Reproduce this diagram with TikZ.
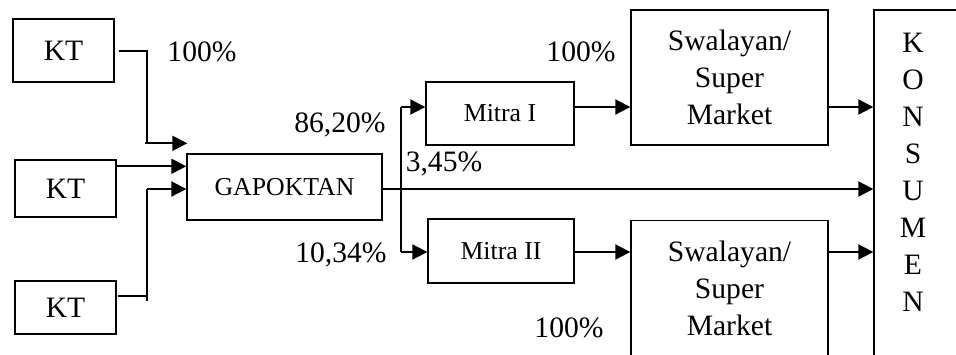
\documentclass[tikz,border=0pt]{standalone}
\usepackage{fontspec}
\setmainfont{Liberation Serif}
\usetikzlibrary{arrows.meta,calc}
\begin{document}
\begin{tikzpicture}[x=0.5pt,y=-0.5pt,
  big/.style={font=\fontsize{14.8}{18.5}\selectfont},
  small/.style={font=\fontsize{12.9}{15}\selectfont},
  box/.style={draw,line width=0.7pt,inner sep=0pt,align=center,big},
  smallbox/.style={box,small},
  link/.style={line width=1pt},
  arr/.style={link,-{Triangle[length=7.5pt,width=7.5pt]}},
  pct/.style={inner sep=0pt,big}]
\useasboundingbox (0,0) rectangle (956,354);
\clip (0,0) rectangle (956,354);

% farmer groups
\node[box,minimum width=50.5pt,minimum height=31.5pt] (kt1) at (63.5,50.5) {KT};
\node[box,minimum width=50.5pt,minimum height=28.5pt] (kt2) at (65.5,188.5) {KT};
\node[box,minimum width=50.5pt,minimum height=26.5pt] (kt3) at (65.5,307.5) {KT};

% collector and partners
\node[smallbox,minimum width=97.5pt,minimum height=33pt] (gap) at (284.5,187) {GAPOKTAN};
\node[smallbox,minimum width=74pt,minimum height=31.5pt] (m1) at (500,113.5) {Mitra I};
\node[smallbox,minimum width=73pt,minimum height=32pt] (m2) at (501,251) {Mitra II};

% retail
\node[box,minimum width=98.5pt,minimum height=67.5pt] (sw1) at (729.5,77.5) {Swalayan/\\Super\\Market};
\node[box,minimum width=98.5pt,minimum height=67.5pt] (sw2) at (729.5,288) {Swalayan/\\Super\\Market};

% consumer column
\node[box,minimum width=63pt,minimum height=205pt] (kons) at (937,215) {};
\node[align=center,big,inner sep=0pt] (konstext) at (913,172.5) {K\\O\\N\\S\\U\\M\\E\\N};

% inputs to GAPOKTAN
\coordinate (in1) at ($(gap.north west)+(1,-10)$);
\coordinate (b1) at ($(in1)+(-40,0)$);
\draw[link] ([xshift=2pt]kt1.east) -| (b1);
\draw[arr] ($(b1)+(-2,0)$) -- (in1);

\draw[arr] ([yshift=-3.5pt]kt2.north east) -- ([yshift=-3.5pt]kt2.north east -| gap.west);

\coordinate (in3) at ($(gap.west)+(0,2)$);
\coordinate (b3) at ($(in3)+(-39,0)$);
\coordinate (t3) at ($(kt3.north east)+(0,16)$);
\draw[link] ($(t3)+(1,0)$) -- (t3 -| b3);
\draw[link] ($(t3 -| b3)+(0,5)$) -- (b3);
\draw[arr] (b3) -- (in3);

% outputs of GAPOKTAN
\coordinate (s1) at (401,107);
\coordinate (s2) at (401,252);
\draw[arr] ([yshift=-1pt]gap.east) -- ([yshift=-1pt]gap.east -| kons.west);
\draw[link] (s1) -- (s2);
\draw[arr] (s1) -- (s1 -| m1.west);
\draw[arr] (s2) -- (s2 -| m2.west);
\draw[arr] (s1 -| m1.east) -- (s1 -| sw1.west);
\draw[arr] (s2 -| m2.east) -- (s2 -| sw2.west);
\draw[arr] (s1 -| sw1.east) -- (s1 -| kons.west);
\draw[arr] (s2 -| sw2.east) -- (s2 -| kons.west);

% shares
\node[pct] (p1) at (202,52) {100\%};
\node[pct] (p2) at (340,125) {86,20\%};
\node[pct] (p3) at (444,164) {3,45\%};
\node[pct] (p4) at (341,255) {10,34\%};
\node[pct] (p5) at (581,52) {100\%};
\node[pct] (p6) at (569,328) {100\%};
\end{tikzpicture}
\end{document}
